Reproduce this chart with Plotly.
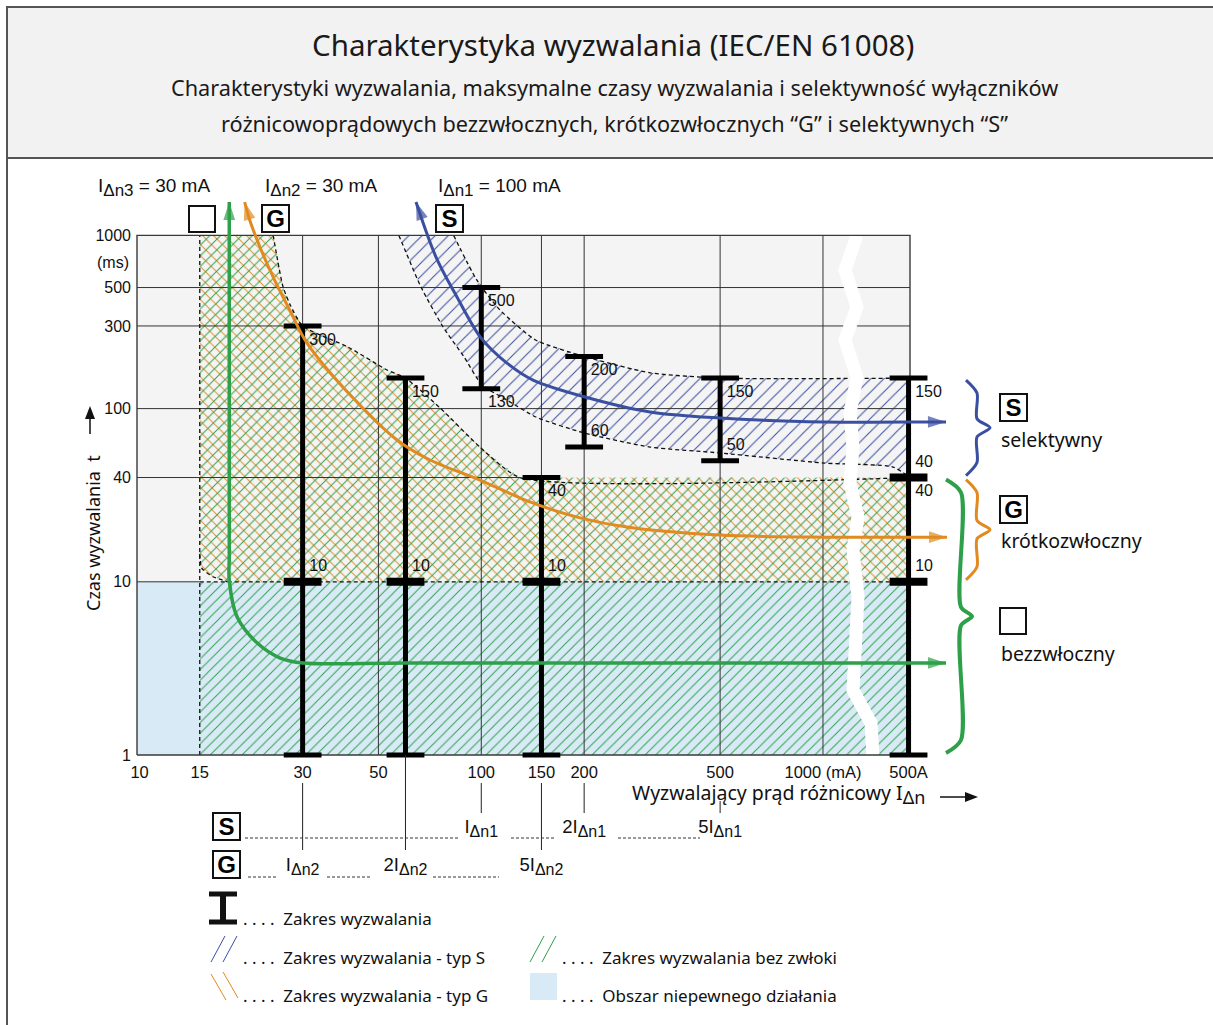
import math
import plotly.graph_objects as go

W, H = 1213, 1025

# ---------------- data ----------------
x_tickvals = [10, 15, 30, 50, 100, 150, 200, 500, 1000, 1780]
x_ticktext = ["10", "15", "30", "50", "100", "150", "200", "500", "1000 (mA)", "500A"]
y_tickvals = [1, 10, 40, 100, 300, 500, 1000]
y_ticktext = ["1", "10", "40", "100", "300", "500", "1000"]
grid_x = [30, 50, 100, 150, 200, 500, 1000]
grid_t_full = [100, 300, 500]

I_dn1 = 100      # type S rated residual current (mA)
I_dn2 = 30       # type G
I_dn3 = 30       # instantaneous
I_min = 15       # lowest tripping current shown (mA)
x_500A = 1780    # plotted position of 500 A (after the axis break)
multiples = [1, 2, 5]

g_bar_x = [30, 60, 150]
g_bar_top = [300, 150, 40]
g_bar_mid = [10, 10, 10]
s_bar_x = [100, 200, 500]
s_bar_top = [500, 200, 150]
s_bar_bot = [130, 60, 50]
big_top = 150
big_mid = [40, 10]

g_upper_x = [24.6, 26.3, 27.7, 30, 40.7, 53, 60, 75.7, 99.1, 129.8]
g_upper_t = [1000, 504, 391, 300, 227, 167, 150, 101, 60, 40]
g_low_x = [15, 15.2, 16.4, 18.1]
g_low_t = [14.5, 12, 10.7, 10]
s_upper_x = [83, 97, 113.4, 144.2, 200, 311.6, 500]
s_upper_t = [1000, 553, 371, 249, 200, 161, 150]
s_lower_x = [57.4, 66.6, 77.3, 89, 100.5, 118.9, 144.6, 200, 311.6, 500, 1007, 1603]
s_lower_t = [1000, 504, 296, 199, 137, 112, 89.4, 72.3, 60, 55.4, 48.5, 46]
s_lower_end_t = 40

arr_s_x = [64.4, 73.7, 84.9, 99.8, 118.9, 141.7, 200, 311.6, 500, 1007, 2043, 2291]
arr_s_t = [1559, 750, 441, 256, 183, 146, 117, 95.6, 88.2, 83.7, 83.7, 83.7]
arr_g_x = [20.3, 21.0, 22.5, 24.6, 27.5, 30.9, 42.7, 56.7, 70.8, 99.1, 138.8, 194.5, 266.9, 499.4, 1027, 2057, 2307]
arr_g_t = [1559, 1227, 857, 575, 371, 239, 112, 65.9, 50.5, 38.7, 28.9, 23.4, 20.7, 18.6, 18.1, 18.1, 18.1]
arr_n_x = [18.3, 18.3, 18.3, 18.3, 19.3, 22.1, 25.8, 30.1, 60, 2291]
arr_n_t = [1559, 100, 14, 10.2, 6.26, 4.43, 3.63, 3.40, 3.40, 3.40]

brk_x = [1257, 1160, 1257, 1160, 1257, 1200, 1224, 1200, 1266, 1224, 1266, 1257, 1224, 1382, 1400]
brk_t = [1000, 631, 386, 249, 152, 94.3, 60, 37.2, 23.7, 15.3, 8.17, 4.04, 2.37, 1.53, 1]

# ---------------- geometry helpers ----------------
XR = [0.5915, 4.1414]
YR = [-1.5589, 4.3591]


def X(px):
    return 10 ** (XR[0] + px / W * (XR[1] - XR[0]))


def T(py):
    return 10 ** (YR[1] - py / H * (YR[1] - YR[0]))


def ypx(t):
    return (YR[1] - math.log10(t)) / (YR[1] - YR[0]) * H


def PX(px):
    return px / W


def PY(py):
    return 1 - py / H


def SUB(s, size):
    return f"<sub><span style='font-size:{size}px'>{s}</span></sub>"


L, R = X(137), X(910)
TOP, BOT = 1000, 1
XTITLE_LEFT = 630

BLUE = '#3b4fa0'
ORANGE = '#e08a20'
GREEN = '#2ea04a'
LIGHTBLUE = '#d9eaf7'
BG = '#f4f4f4'
NUM = 'Liberation Sans, Arial, sans-serif'
TXT = 'Noto Sans, Open Sans, sans-serif'

traces = []


def poly(xs, ts, fillcolor=None, pattern=None):
    kw = dict(x=xs, y=ts, mode='lines', fill='toself',
              line=dict(width=0, color='rgba(0,0,0,0)'), hoverinfo='skip')
    if pattern:
        kw['fillcolor'] = 'rgba(0,0,0,0)'
        kw['fillpattern'] = pattern
    else:
        kw['fillcolor'] = fillcolor
    traces.append(go.Scatter(**kw))


def pat(shape, color, size, sol):
    return dict(shape=shape, fgcolor=color, bgcolor='rgba(0,0,0,0)',
                size=size, solidity=sol, fillmode='replace')


# backgrounds
poly([L, R, R, L, L], [BOT, BOT, TOP, TOP, BOT], fillcolor=BG)
poly([L, R, R, L, L], [BOT, BOT, 10, 10, BOT], fillcolor=LIGHTBLUE)

# G region
gx = [I_min] + g_upper_x + [R, R] + g_low_x[::-1]
gt = [TOP] + g_upper_t + [g_upper_t[-1], g_low_t[-1]] + g_low_t[::-1]
poly(gx, gt, pattern=pat('\\', ORANGE, 7.8, 0.12))
poly(gx, gt, pattern=pat('/', GREEN, 7.5, 0.13))
poly([I_min, R, R, I_min, I_min], [BOT, BOT, 10, 10, BOT], pattern=pat('/', GREEN, 7.5, 0.13))

# S region
sx = s_upper_x + [R, R] + s_lower_x[::-1]
st = s_upper_t + [s_upper_t[-1], s_lower_end_t] + s_lower_t[::-1]
poly(sx, st, pattern=pat('/', BLUE, 9.3, 0.11))

# grid
gxs, gts = [], []
for x in grid_x:
    gxs += [x, x, None]
    gts += [BOT, TOP, None]
for t in grid_t_full:
    gxs += [L, R, None]
    gts += [t, t, None]
gxs += [L, g_upper_x[-1], None, L, I_min]
gts += [g_upper_t[-1], g_upper_t[-1], None, 10, 10]
traces.append(go.Scatter(x=gxs, y=gts, mode='lines', line=dict(color='#333', width=1),
                         hoverinfo='skip'))

# dashed boundaries
DASH = dict(color='#111', width=1.3, dash='4px,3px')
traces.append(go.Scatter(x=[I_min, I_min, None, I_min, R], y=[BOT, TOP, None, 10, 10],
                         mode='lines', line=DASH, hoverinfo='skip'))
for xs, ts in [(g_upper_x + [R], g_upper_t + [g_upper_t[-1]]),
               (g_low_x, g_low_t),
               (s_upper_x + [R], s_upper_t + [s_upper_t[-1]]),
               (s_lower_x + [R], s_lower_t + [s_lower_end_t])]:
    traces.append(go.Scatter(x=xs, y=ts, mode='lines',
                             line=dict(DASH, shape='spline', smoothing=0.6), hoverinfo='skip'))

# axis break
traces.append(go.Scatter(x=brk_x, y=brk_t, mode='lines', line=dict(color='white', width=13),
                         hoverinfo='skip'))

# box
traces.append(go.Scatter(x=[L, R, R, L, L], y=[BOT, BOT, TOP, TOP, BOT], mode='lines',
                         line=dict(color='#3a3a3a', width=1.4), hoverinfo='skip'))

# trip-range bars
bx, bt = [], []
for x, top in zip(g_bar_x, g_bar_top):
    bx += [x, x, None]
    bt += [BOT, top, None]
for x, top, bot in zip(s_bar_x, s_bar_top, s_bar_bot):
    bx += [x, x, None]
    bt += [bot, top, None]
bx += [x_500A, x_500A]
bt += [BOT, big_top]
traces.append(go.Scatter(x=bx, y=bt, mode='lines', line=dict(color='black', width=5),
                         hoverinfo='skip'))
thin_x = g_bar_x + g_bar_x + s_bar_x + s_bar_x + [x_500A, x_500A]
thin_t = g_bar_top + [BOT] * len(g_bar_x) + s_bar_top + s_bar_bot + [big_top, BOT]
traces.append(go.Scatter(x=thin_x, y=thin_t, mode='markers',
                         marker=dict(symbol='line-ew', size=27, line=dict(width=5, color='black')),
                         hoverinfo='skip'))
thick_x = g_bar_x + [x_500A] * len(big_mid)
thick_t = g_bar_mid + big_mid
traces.append(go.Scatter(x=thick_x, y=thick_t, mode='markers',
                         marker=dict(symbol='line-ew', size=27, line=dict(width=8, color='black')),
                         hoverinfo='skip'))


# characteristic arrows
def arrow(xs, ts, color, width, head=19):
    traces.append(go.Scatter(
        x=xs, y=ts, mode='lines+markers',
        line=dict(color=color, width=width, shape='spline', smoothing=0.9),
        marker=dict(symbol='arrow', size=[0] * (len(xs) - 1) + [head], color=color,
                    angleref='previous', line=dict(width=0)),
        hoverinfo='skip'))
    traces.append(go.Scatter(
        x=[xs[1], xs[0]], y=[ts[1], ts[0]], mode='markers',
        marker=dict(symbol='arrow', size=[0, head], color=color, angleref='previous',
                    line=dict(width=0)),
        hoverinfo='skip'))


arrow(arr_s_x, arr_s_t, BLUE, 3)
arrow(arr_g_x, arr_g_t, ORANGE, 3)
arrow(arr_n_x, arr_n_t, GREEN, 3.5)

# bar value labels
lx, lt, ls, lp = [], [], [], []


def lab(x, t, pos):
    lx.append(x); lt.append(t); ls.append(str(t)); lp.append(pos)


for x, top, mid in zip(g_bar_x, g_bar_top, g_bar_mid):
    lab(x, top, 'bottom right')
    lab(x, mid, 'top right')
for x, top, bot in zip(s_bar_x, s_bar_top, s_bar_bot):
    lab(x, top, 'bottom right')
    lab(x, bot, 'bottom right' if bot >= 100 else 'top right')
lab(x_500A, big_top, 'bottom right')
lab(x_500A, big_mid[0], 'top right')
lab(x_500A, big_mid[0], 'bottom right')
lab(x_500A, big_mid[1], 'top right')
traces.append(go.Scatter(x=lx, y=lt, text=ls, textposition=lp, mode='markers+text',
                         marker=dict(size=9, opacity=0),
                         textfont=dict(family=NUM, size=16, color='#111'), hoverinfo='skip'))

# multiples of rated currents below the axis
vx, vt = [], []
for m in multiples:
    x1 = m * I_dn1
    start1 = T(801) if x1 > X(XTITLE_LEFT) else T(783)
    vx += [x1, x1, None]
    vt += [BOT if x1 not in x_tickvals else start1, T(813), None]
    x2 = m * I_dn2
    vx += [x2, x2, None]
    vt += [BOT if x2 not in x_tickvals else T(783), T(850), None]
traces.append(go.Scatter(x=vx, y=vt, mode='lines', line=dict(color='#222', width=1),
                         hoverinfo='skip'))
mt = [(("" if m == 1 else str(m)) + "I" + SUB("Δn1", 16)) for m in multiples]
traces.append(go.Scatter(x=[m * I_dn1 for m in multiples], y=[T(828)] * 3, text=mt,
                         mode='text', textposition='middle center',
                         textfont=dict(family=NUM, size=18.5, color='#111'), hoverinfo='skip'))
mt2 = [(("" if m == 1 else str(m)) + "I" + SUB("Δn2", 16)) for m in multiples]
traces.append(go.Scatter(x=[m * I_dn2 for m in multiples], y=[T(866)] * 3, text=mt2,
                         mode='text', textposition='middle center',
                         textfont=dict(family=NUM, size=18.5, color='#111'), hoverinfo='skip'))


# braces
def brace(t_lo, t_hi, hook, spine, tip, color, width):
    y_top = ypx(t_hi) + 2
    y_bot = ypx(t_lo) - 2
    y_mid = (y_top + y_bot) / 2
    r = 13
    pts = [(hook, y_top), (spine, y_top + r), (spine, y_mid - r * 0.7), (tip, y_mid),
           (spine, y_mid + r * 0.7), (spine, y_bot - r), (hook, y_bot)]
    traces.append(go.Scatter(x=[X(p[0]) for p in pts], y=[T(p[1]) for p in pts], mode='lines',
                             line=dict(color=color, width=width, shape='spline', smoothing=0.8),
                             hoverinfo='skip'))


brace(s_lower_end_t, s_upper_t[-1], 966, 977, 990, BLUE, 3)
brace(10, g_upper_t[-1], 966, 977, 990, ORANGE, 3)
brace(BOT, g_upper_t[-1], 946, 961, 972, GREEN, 4)

fig = go.Figure(traces)

# ---------------- annotations ----------------
ann = []


def A(text, px, py, size, family, xanchor='center', yanchor='middle', **kw):
    d = dict(text=text, x=PX(px), y=PY(py), xref='paper', yref='paper', showarrow=False,
             font=dict(family=family, size=size, color=kw.pop('color', '#111')),
             xanchor=xanchor, yanchor=yanchor)
    d.update(kw)
    ann.append(d)


A('Charakterystyka wyzwalania (IEC/EN 61008)', 613, 44, 29.5, TXT, color='#1a1a1a')
A('Charakterystyki wyzwalania, maksymalne czasy wyzwalania i selektywność wyłączników',
  614, 88, 21.7, TXT, color='#1a1a1a')
A('różnicowoprądowych bezzwłocznych, krótkozwłocznych “G” i selektywnych “S”',
  614, 123, 21.7, TXT, color='#1a1a1a')
A('(ms)', 131, 262, 16, NUM, xanchor='right')
A('Czas wyzwalania  t', 93, 533, 18, TXT, textangle=-90)
A('Wyzwalający prąd różnicowy I' + SUB('Δn', 18), XTITLE_LEFT, 794, 19.5, TXT, xanchor='left')
A('I' + SUB('Δn3', 17) + f' = {I_dn3} mA', 96, 188, 19, NUM, xanchor='left')
A('I' + SUB('Δn2', 17) + f' = {I_dn2} mA', 263, 188, 19, NUM, xanchor='left')
A('I' + SUB('Δn1', 17) + f' = {I_dn1} mA', 436, 188, 19, NUM, xanchor='left')

shp = []


def box(letter, cx, cy):
    if letter:
        A(f'<b>{letter}</b>', cx, cy, 24, NUM, color='black',
          width=23, height=23, borderwidth=2, bordercolor='#111', borderpad=1,
          bgcolor='white')
    else:
        shp.append(dict(type='rect', xref='paper', yref='paper', x0=PX(cx - 13),
                        x1=PX(cx + 13), y0=PY(cy + 13), y1=PY(cy - 13), fillcolor='white',
                        line=dict(color='#111', width=2)))


box('', 202, 219)
box('G', 275, 219)
box('S', 450, 219)
box('S', 1013, 407)
box('G', 1013, 509)
box('', 1013, 621)
box('S', 226, 826)
box('G', 226, 864)
A('selektywny', 999, 440, 19.5, TXT, xanchor='left')
A('krótkozwłoczny', 999, 540, 19.5, TXT, xanchor='left')
A('bezzwłoczny', 999, 653, 19.5, TXT, xanchor='left')
A('. . . .  Zakres wyzwalania', 241, 918, 17, TXT, xanchor='left')
A('. . . .  Zakres wyzwalania - typ S', 241, 957, 17, TXT, xanchor='left')
A('. . . .  Zakres wyzwalania - typ G', 241, 995, 17, TXT, xanchor='left')
A('. . . .  Zakres wyzwalania bez zwłoki', 560, 957, 17, TXT, xanchor='left')
A('. . . .  Obszar niepewnego działania', 560, 995, 17, TXT, xanchor='left')


# ---------------- shapes (decoration) ----------------
def line(x0, y0, x1, y1, color='#111', width=1, dash=None, layer='above'):
    d = dict(type='line', xref='paper', yref='paper', x0=PX(x0), y0=PY(y0), x1=PX(x1),
             y1=PY(y1), line=dict(color=color, width=width), layer=layer)
    if dash:
        d['line']['dash'] = dash
    shp.append(d)


def tri(pts, color='#111'):
    path = 'M' + ' L'.join(f'{PX(a):.5f},{PY(b):.5f}' for a, b in pts) + ' Z'
    shp.append(dict(type='path', xref='paper', yref='paper', path=path, fillcolor=color,
                    line=dict(width=0)))


shp.append(dict(type='rect', xref='paper', yref='paper', x0=PX(7), x1=PX(1230), y0=PY(158),
                y1=PY(7), fillcolor='#f2f2f2', line=dict(color='#555', width=2), layer='below'))
line(7, 7, 7, 1035, color='#555', width=2)

# axis title arrows
line(940, 797, 966, 797, width=1.5)
tri([(965, 792), (978, 797), (965, 802)])
line(90, 434, 90, 418, width=1.5)
tri([(85, 419), (90, 406), (95, 419)])

# dotted leaders
for a, b in [(245, 460), (511, 555), (618, 700)]:
    line(a, 838, b, 838, color='#333', width=1, dash='3px,2px')
for a, b in [(248, 278), (327, 371), (433, 499)]:
    line(a, 877, b, 877, color='#333', width=1, dash='3px,2px')

# legend swatches
line(223, 894, 223, 922, width=6)
line(209, 894, 237, 894, width=5)
line(209, 922, 237, 922, width=5)
line(211, 962, 225, 936, color=BLUE, width=1)
line(223, 962, 237, 936, color=BLUE, width=1)
line(211, 974, 226, 1000, color=ORANGE, width=1)
line(223, 972, 238, 998, color=ORANGE, width=1)
line(530, 962, 544, 936, color=GREEN, width=1)
line(542, 962, 556, 936, color=GREEN, width=1)
shp.append(dict(type='rect', xref='paper', yref='paper', x0=PX(530), x1=PX(557), y0=PY(1000),
                y1=PY(973), fillcolor=LIGHTBLUE, line=dict(width=0)))

fig.update_layout(
    width=W, height=H, margin=dict(l=0, r=0, t=0, b=0),
    paper_bgcolor='white', plot_bgcolor='rgba(0,0,0,0)', showlegend=False,
    annotations=ann, shapes=shp,
    xaxis=dict(type='log', range=XR, tickvals=x_tickvals, ticktext=x_ticktext,
               anchor='free', position=PY(755), showgrid=False, zeroline=False,
               showline=False, ticks='', ticklabelstandoff=5, automargin=False,
               tickfont=dict(family=NUM, size=16.5, color='#111'), fixedrange=True),
    yaxis=dict(type='log', range=YR, tickvals=y_tickvals, ticktext=y_ticktext,
               anchor='free', position=PX(137), showgrid=False, zeroline=False,
               showline=False, ticks='', ticklabelstandoff=6, automargin=False,
               tickfont=dict(family=NUM, size=16, color='#111'), fixedrange=True),
)

fig.write_html("out.html", config={'displayModeBar': False},
               post_script="document.body.style.margin='0';document.body.style.overflow='hidden';")
